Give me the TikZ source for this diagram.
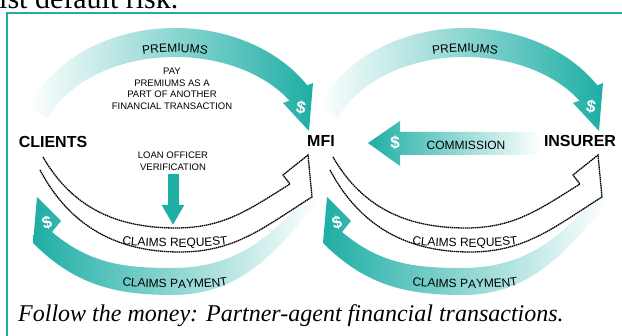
\documentclass[tikz,border=0pt]{standalone}
\usepackage{fontspec}
\setmainfont{Liberation Serif}
\setsansfont{Liberation Sans}
\usetikzlibrary{arrows.meta,decorations.text}
\definecolor{moneyteal}{RGB}{30,174,165}

\begin{document}
\begin{tikzpicture}[x=1pt,y=1pt,
		party/.style={font=\sffamily\bfseries\fontsize{16}{16}\selectfont},
		note/.style={font=\sffamily\fontsize{9.5}{11.5}\selectfont,align=center},
		dollar/.style={font=\sffamily\bfseries\fontsize{17}{17}\selectfont,text=white},
		flowin/.style={left color=white,right color=moneyteal},
		flowout/.style={left color=moneyteal,right color=white},
		request/.style={draw=black,line width=1.3pt,dash pattern=on 1.5pt off 0.6pt},
		bend text/.style={decorate,decoration={text along path,text align=center,
				text={|\sffamily\fontsize{12}{12}\selectfont|#1}}}]
	\useasboundingbox (0,0) rectangle (622,-336);
	\node[anchor=base west,inner sep=0,font=\fontsize{30}{30}\selectfont] (lead) at (-1,-9) {ist default risk.};
	\draw[moneyteal,line width=2pt] (7,-336) -- (7,-13.5) -- (622,-13.5);

	% clients <-> mfi, then the same loop again for mfi <-> insurer
	\begin{scope}
		\path[flowin] (28.4,-108.3) arc[start angle=160,end angle=32,x radius=156,y radius=122]
			-- (313,-83) -- (309,-131) -- (283,-103) -- (289.5,-100.7)
			arc[start angle=32,end angle=160,x radius=135,y radius=93] -- cycle;
		\path[flowout] (33,-243) to[out=-45,in=180] (172,-295) to[out=0,in=-130] (318,-202)
			-- (306,-196) to[out=-130,in=0] (172,-268) to[out=180,in=-40] (52,-232)
			-- (61,-221) -- (37,-197) -- cycle;
		\draw[request] (43,-157) to[out=-60,in=180] (176,-228) to[out=0,in=-148] (290,-184)
			-- (283,-175) -- (308,-155) -- (312,-197) to[out=-148,in=0] (180,-252) to[out=180,in=-62] (40,-170);
		\path[bend text=PREMIUMS] (76,-80.7) arc[start angle=135,end angle=45,x radius=140,y radius=98];
		\path[bend text=CLAIMS REQUEST] (50,-215) to[out=-35,in=180] (175,-247) to[out=0,in=-145] (300,-215);
		\path[bend text=CLAIMS PAYMENT] (70,-263) to[out=-35,in=180] (175,-288) to[out=0,in=-145] (280,-263);
	\end{scope}
	\begin{scope}[xshift=290pt]
		\path[flowin] (28.4,-108.3) arc[start angle=160,end angle=32,x radius=156,y radius=122]
			-- (313,-83) -- (309,-131) -- (283,-103) -- (289.5,-100.7)
			arc[start angle=32,end angle=160,x radius=135,y radius=93] -- cycle;
		\path[flowout] (33,-243) to[out=-45,in=180] (172,-295) to[out=0,in=-130] (318,-202)
			-- (306,-196) to[out=-130,in=0] (172,-268) to[out=180,in=-40] (52,-232)
			-- (61,-221) -- (37,-197) -- cycle;
		\draw[request] (43,-157) to[out=-60,in=180] (176,-228) to[out=0,in=-148] (290,-184)
			-- (283,-175) -- (308,-155) -- (312,-197) to[out=-148,in=0] (180,-252) to[out=180,in=-62] (40,-170);
		\path[bend text=PREMIUMS] (76,-80.7) arc[start angle=135,end angle=45,x radius=140,y radius=98];
		\path[bend text=CLAIMS REQUEST] (50,-215) to[out=-35,in=180] (175,-247) to[out=0,in=-145] (300,-215);
		\path[bend text=CLAIMS PAYMENT] (70,-263) to[out=-35,in=180] (175,-288) to[out=0,in=-145] (280,-263);
	\end{scope}

	% commission goes back from the insurer
	\path[flowout] (368,-143) -- (400,-121) -- (400,-132) -- (540,-132) -- (540,-155) -- (400,-155) -- (400,-166) -- cycle;

	\node[party] (clients) at (53,-142) {CLIENTS};
	\node[party] (mfi) at (321,-141) {MFI};
	\node[party] (insurer) at (580,-141) {INSURER};
	\node[note] (pay) at (172,-89) {PAY\\PREMIUMS AS A\\PART OF ANOTHER\\FINANCIAL TRANSACTION};
	\node[note] (loan) at (173,-161) {LOAN OFFICER\\VERIFICATION};
	\node[font=\sffamily\fontsize{12}{12}\selectfont] (comm) at (466,-145) {COMMISSION};
	\coordinate (check) at (173,-225);
	\draw[moneyteal,line width=11pt,-{Triangle[length=20pt,width=21pt]}] (loan.south) -- (check);

	\node[dollar,rotate=-10] (s1) at (301,-108) {\$};
	\node[dollar,rotate=-10] (s2) at (591,-107) {\$};
	\node[dollar] (s3) at (395,-143) {\$};
	\node[dollar,rotate=15] (s4) at (47,-223) {\$};
	\node[dollar,rotate=15] (s5) at (337,-223) {\$};

	\node[anchor=base west,inner sep=0,font=\itshape\fontsize{24}{24}\selectfont] (caption) at (18,-322) {Follow the money: Partner-agent financial transactions.};
\end{tikzpicture}
\end{document}
